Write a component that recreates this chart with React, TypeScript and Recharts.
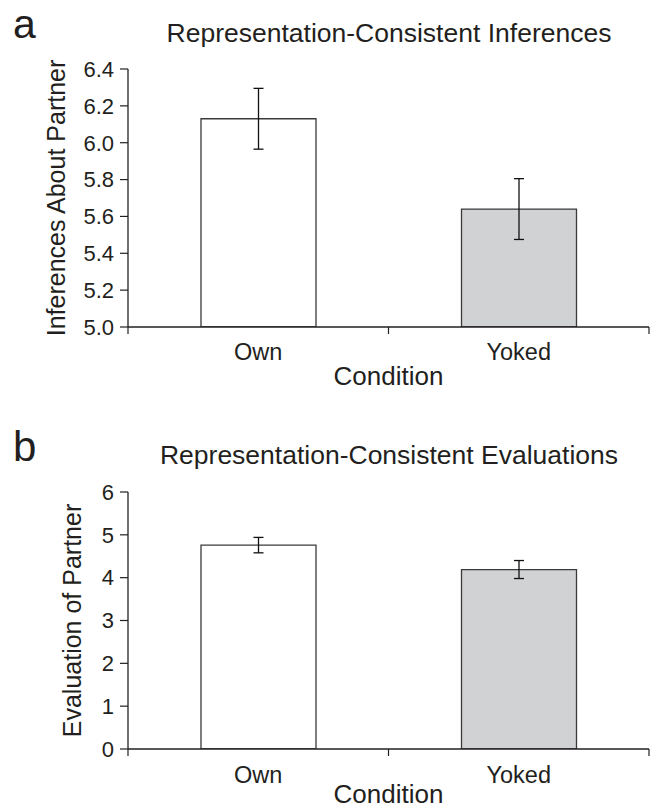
import React from 'react';
import { BarChart, Bar, XAxis, YAxis, ErrorBar, Cell, Label } from 'recharts';

const categories = ['Own', 'Yoked'];
const inferenceMeans = [6.13, 5.64];
const inferenceErrors = [0.165, 0.165];
const evaluationMeans = [4.76, 4.19];
const evaluationErrors = [0.18, 0.21];
const inferenceTicks = [5.0, 5.2, 5.4, 5.6, 5.8, 6.0, 6.2, 6.4];
const evaluationTicks = [0, 1, 2, 3, 4, 5, 6];
const barFills = ['#ffffff', '#d1d2d4'];

const FONT = '"Liberation Sans", Arial, Helvetica, sans-serif';
const INK = '#231f20';
const TICK = 7;

const inferenceData = categories.map((c, i) => ({ name: c, value: inferenceMeans[i], err: inferenceErrors[i] }));
const evaluationData = categories.map((c, i) => ({ name: c, value: evaluationMeans[i], err: evaluationErrors[i] }));

const makeCategoryTick = (labelDy: number) => (props: any) => {
  const { x, y, payload, index, visibleTicksCount, width } = props;
  const half = payload && typeof payload.offset === 'number' && payload.offset > 0
    ? payload.offset
    : width / visibleTicksCount / 2;
  const y0 = y - TICK;
  return (
    <g>
      <line x1={x - half} x2={x - half} y1={y0} y2={y} stroke={INK} strokeWidth={1.2} />
      {index === visibleTicksCount - 1 && (
        <line x1={x + half} x2={x + half} y1={y0} y2={y} stroke={INK} strokeWidth={1.2} />
      )}
      <text x={x} y={y + labelDy} textAnchor="middle" fontSize={23.5} fill={INK} fontFamily={FONT}>
        {payload.value}
      </text>
    </g>
  );
};

interface PanelProps {
  data: { name: string; value: number; err: number }[];
  height: number;
  top: number;
  xAxisHeight: number;
  domain: [number, number];
  ticks: number[];
  fmt: (v: number) => string;
  yLabel: string;
  yLabelOffset: number;
  condOffset: number;
  labelDy: number;
}

const Panel = (p: PanelProps) => (
  <BarChart
    width={651}
    height={p.height}
    data={p.data}
    margin={{ top: p.top, right: 2, left: 0, bottom: 0 }}
    barSize={115}
  >
    <XAxis
      dataKey="name"
      height={p.xAxisHeight}
      axisLine={{ stroke: INK, strokeWidth: 1.3 }}
      tickLine={false}
      tickSize={TICK}
      tickMargin={0}
      interval={0}
      tick={makeCategoryTick(p.labelDy)}
    >
      <Label
        value="Condition"
        position="insideBottom"
        offset={p.condOffset}
        style={{ fontSize: 26, fill: INK, fontFamily: FONT }}
      />
    </XAxis>
    <YAxis
      width={128}
      domain={p.domain}
      ticks={p.ticks}
      interval={0}
      allowDataOverflow
      tickFormatter={p.fmt}
      axisLine={{ stroke: INK, strokeWidth: 1.3 }}
      tickLine={{ stroke: INK, strokeWidth: 1.2 }}
      tickSize={8}
      tickMargin={6}
      tick={{ fontSize: 22, fill: INK, fontFamily: FONT }}
    >
      <Label
        value={p.yLabel}
        angle={-90}
        position="insideLeft"
        offset={p.yLabelOffset}
        style={{ fontSize: 25, fill: INK, fontFamily: FONT, textAnchor: 'middle' }}
      />
    </YAxis>
    <Bar dataKey="value" stroke="#3a3a3a" strokeWidth={1.3} isAnimationActive={false}>
      {p.data.map((d, i) => (
        <Cell key={d.name} fill={barFills[i]} />
      ))}
      <ErrorBar dataKey="err" width={5} stroke="#111" strokeWidth={1.3} isAnimationActive={false} />
    </Bar>
  </BarChart>
);

export default function App() {
  return (
    <div style={{ position: 'absolute', left: 0, top: 0, width: 651, height: 809, background: '#fff', fontFamily: FONT }}>
      <div style={{ position: 'absolute', left: 0, top: 0 }}>
        <Panel
          data={inferenceData}
          height={400}
          top={69}
          xAxisHeight={73}
          domain={[5, 6.4]}
          ticks={inferenceTicks}
          fmt={(v) => v.toFixed(1)}
          yLabel="Inferences About Partner"
          yLabelOffset={56}
          condOffset={15}
          labelDy={26}
        />
      </div>
      <div style={{ position: 'absolute', left: 0, top: 400 }}>
        <Panel
          data={evaluationData}
          height={409}
          top={92}
          xAxisHeight={60}
          domain={[0, 6]}
          ticks={evaluationTicks}
          fmt={(v) => String(v)}
          yLabel="Evaluation of Partner"
          yLabelOffset={72}
          condOffset={6}
          labelDy={27}
        />
      </div>
      <svg width={651} height={809} style={{ position: 'absolute', left: 0, top: 0, pointerEvents: 'none' }}>
        <text x={13} y={37.5} fontSize={41} fill={INK} fontFamily={FONT}>a</text>
        <text x={389} y={42} fontSize={26.5} fill={INK} fontFamily={FONT} textAnchor="middle">
          Representation-Consistent Inferences
        </text>
        <text x={13} y={461} fontSize={42} fill={INK} fontFamily={FONT}>b</text>
        <text x={389} y={464} fontSize={26.5} fill={INK} fontFamily={FONT} textAnchor="middle">
          Representation-Consistent Evaluations
        </text>
      </svg>
    </div>
  );
}
